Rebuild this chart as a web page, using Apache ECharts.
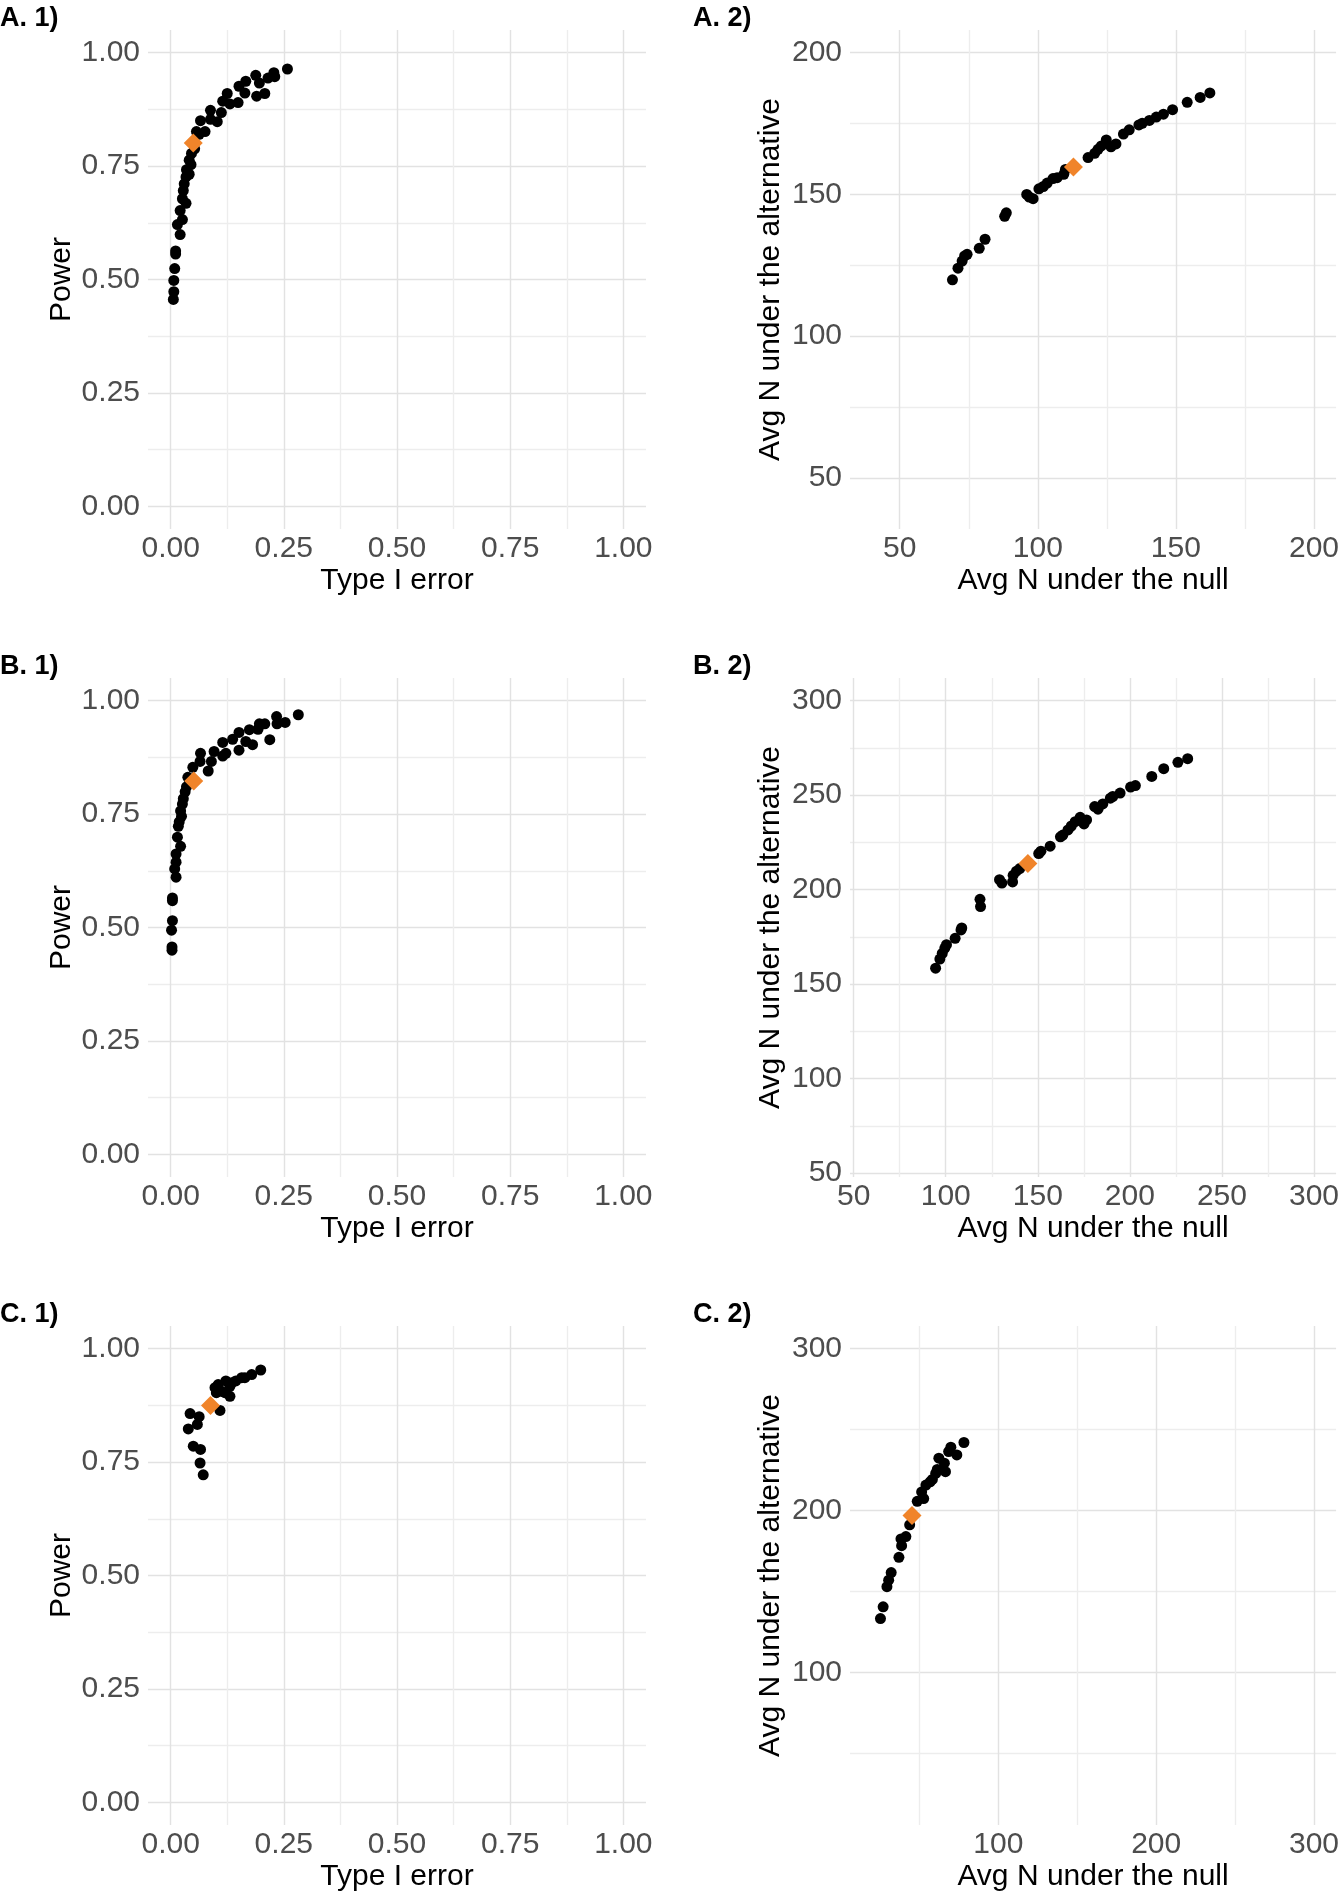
<!DOCTYPE html>
<html>
<head>
<meta charset="utf-8">
<title>Operating characteristics</title>
<script src="https://cdn.jsdelivr.net/npm/echarts@6/dist/echarts.min.js"></script>
<style>
  html, body { margin: 0; padding: 0; background: #fff; }
  #chart { width: 1342px; height: 1899px; }
</style>
</head>
<body>
<div id="chart"></div>
<script>
// A. 1) / A. 2)
var a1Err = [0.006, 0.007, 0.007, 0.009, 0.011, 0.011, 0.021, 0.015, 0.026, 0.021, 0.034, 0.026, 0.028, 0.030, 0.034, 0.041, 0.035, 0.045, 0.041, 0.046, 0.053, 0.057, 0.063, 0.076, 0.066, 0.088, 0.103, 0.112, 0.088, 0.115, 0.131, 0.149, 0.125, 0.151, 0.164, 0.166, 0.188, 0.190, 0.208, 0.196, 0.215, 0.228, 0.230, 0.258];
var a1Pow = [0.456, 0.473, 0.498, 0.524, 0.556, 0.563, 0.599, 0.621, 0.632, 0.652, 0.668, 0.678, 0.696, 0.711, 0.726, 0.732, 0.742, 0.753, 0.763, 0.778, 0.788, 0.826, 0.820, 0.826, 0.850, 0.853, 0.848, 0.868, 0.873, 0.893, 0.887, 0.890, 0.910, 0.926, 0.911, 0.937, 0.950, 0.904, 0.910, 0.933, 0.944, 0.956, 0.947, 0.964];
var a1Sel = [0.050, 0.801];

var a2Null = [69.1, 71.1, 72.6, 73.5, 74.4, 78.8, 80.9, 88.0, 88.6, 96.0, 96.9, 98.3, 100.4, 102.0, 103.4, 105.5, 107.0, 109.4, 110.0, 118.2, 120.6, 121.8, 123.0, 124.8, 126.5, 128.3, 131.0, 133.1, 136.6, 137.8, 140.4, 142.9, 145.5, 148.8, 154.1, 158.8, 162.3];
var a2Alt = [119.9, 124.0, 126.5, 128.3, 128.9, 131.0, 134.2, 142.3, 143.5, 150.0, 149.1, 148.5, 152.0, 152.8, 154.0, 155.6, 155.9, 157.1, 158.8, 163.0, 164.5, 165.9, 167.1, 169.2, 166.8, 167.8, 171.3, 172.8, 174.5, 175.1, 176.1, 177.3, 178.3, 179.9, 182.5, 184.2, 185.8];
var a2Sel = [112.9, 159.7];

// B. 1) / B. 2)
var b1Err = [0.003, 0.003, 0.002, 0.004, 0.004, 0.004, 0.012, 0.009, 0.012, 0.012, 0.022, 0.015, 0.017, 0.019, 0.024, 0.022, 0.026, 0.028, 0.032, 0.035, 0.038, 0.049, 0.066, 0.065, 0.083, 0.090, 0.096, 0.115, 0.122, 0.115, 0.137, 0.151, 0.151, 0.166, 0.181, 0.174, 0.193, 0.196, 0.208, 0.219, 0.234, 0.235, 0.253, 0.282];
var b1Pow = [0.450, 0.457, 0.494, 0.515, 0.559, 0.565, 0.611, 0.629, 0.644, 0.662, 0.679, 0.699, 0.723, 0.733, 0.745, 0.757, 0.772, 0.784, 0.799, 0.810, 0.831, 0.853, 0.884, 0.866, 0.845, 0.866, 0.888, 0.878, 0.884, 0.908, 0.915, 0.930, 0.891, 0.910, 0.903, 0.936, 0.937, 0.949, 0.949, 0.914, 0.965, 0.949, 0.952, 0.969];
var b1Sel = [0.051, 0.823];

var b2Null = [94.5, 96.8, 98.1, 99.5, 100.4, 105.1, 108.3, 108.7, 118.6, 118.9, 129.2, 130.5, 136.3, 136.6, 138.4, 140.2, 150.5, 151.7, 156.7, 162.3, 163.6, 166.4, 168.2, 170.3, 173.0, 175.1, 176.5, 180.9, 182.7, 185.3, 189.4, 190.7, 194.7, 200.4, 203.0, 211.9, 218.4, 226.1, 231.4];
var b2Alt = [158.5, 163.3, 166.3, 169.1, 170.9, 174.3, 178.7, 179.8, 194.9, 191.1, 205.3, 203.5, 204.1, 207.6, 209.8, 211.2, 219.1, 220.4, 223.0, 228.0, 228.9, 231.6, 233.7, 236.0, 238.3, 234.8, 236.9, 244.0, 242.6, 245.4, 248.4, 249.3, 251.1, 254.3, 255.1, 259.9, 264.0, 267.4, 269.3];
var b2Sel = [144.6, 213.8];

// C. 1) / C. 2)
var c1Err = [0.072, 0.065, 0.066, 0.050, 0.039, 0.059, 0.063, 0.043, 0.109, 0.098, 0.105, 0.112, 0.122, 0.131, 0.131, 0.144, 0.157, 0.164, 0.179, 0.199, 0.101, 0.120, 0.135];
var c1Pow = [0.722, 0.748, 0.778, 0.785, 0.823, 0.833, 0.850, 0.857, 0.864, 0.914, 0.921, 0.906, 0.929, 0.895, 0.917, 0.929, 0.936, 0.936, 0.943, 0.953, 0.903, 0.903, 0.925];
var c1Sel = [0.088, 0.875];

var c2Null = [25.3, 27.0, 29.4, 30.5, 32.1, 37.0, 38.7, 38.3, 41.4, 43.8, 48.6, 52.7, 51.4, 54.1, 56.8, 58.2, 60.3, 61.3, 66.5, 65.8, 62.3, 68.5, 69.9, 73.7, 78.2];
var c2Alt = [133.4, 140.7, 153.1, 157.1, 161.8, 171.2, 178.4, 182.6, 184.0, 191.3, 205.8, 207.5, 211.6, 215.8, 217.8, 219.3, 223.0, 225.5, 224.1, 229.3, 232.4, 236.5, 239.2, 234.4, 242.1];
var c2Sel = [45.3, 197.1];

// axis ranges (ggplot style 5% expansion) and breaks
var probRange = [-0.05, 1.05];
var probMajor = [0, 0.25, 0.5, 0.75, 1];
var probMinor = [0.125, 0.375, 0.625, 0.875];
var a2Range = [32, 208];
var a2Major = [50, 100, 150, 200];
var a2Minor = [75, 125, 175];
var b2Range = [48, 312];
var b2Major = [50, 100, 150, 200, 250, 300];
var b2Minor = [75, 125, 175, 225, 275];
var c2Range = [6, 314];
var c2Major = [100, 200, 300];
var c2Minor = [50, 150, 250];

var panelTitles = ['A. 1)', 'A. 2)', 'B. 1)', 'B. 2)', 'C. 1)', 'C. 2)'];

var FONT = '"Liberation Sans", Arial, Helvetica, sans-serif';
var colLeft = [148, 850];
var rowTop = [30, 678, 1326];
var panelW = 498, panelH = 499;

function zip(xs, ys) {
    return xs.map(function (x, i) { return [x, ys[i]]; });
}

function makeAxis(idx, range, major, minor, fmt, name, gap, isX) {
    var ticks = major.concat(minor).sort(function (a, b) { return a - b; });
    return {
        type: 'value',
        gridIndex: idx,
        min: range[0],
        max: range[1],
        name: name,
        nameLocation: 'middle',
        nameGap: gap,
        nameTextStyle: { color: '#000', fontSize: 30, fontFamily: FONT },
        axisLine: { show: false },
        axisTick: { show: false, customValues: ticks },
        axisLabel: {
            customValues: major,
            formatter: fmt,
            color: '#4d4d4d',
            fontSize: 30,
            fontFamily: FONT,
            margin: isX ? 5 : 8
        },
        splitLine: {
            show: true,
            lineStyle: {
                width: 1.4,
                color: ticks.map(function (v) { return major.indexOf(v) >= 0 ? '#e2e2e2' : '#ededed'; })
            }
        }
    };
}

var fmtProb = function (v) { return v.toFixed(2); };
var fmtN = function (v) { return String(v); };

var panels = [
    { pts: zip(a1Err, a1Pow), sel: a1Sel, range: probRange, major: probMajor, minor: probMinor, fmt: fmtProb, xn: 'Type I error', yn: 'Power', ygap: 71 },
    { pts: zip(a2Null, a2Alt), sel: a2Sel, range: a2Range, major: a2Major, minor: a2Minor, fmt: fmtN, xn: 'Avg N under the null', yn: 'Avg N under the alternative', ygap: 64 },
    { pts: zip(b1Err, b1Pow), sel: b1Sel, range: probRange, major: probMajor, minor: probMinor, fmt: fmtProb, xn: 'Type I error', yn: 'Power', ygap: 71 },
    { pts: zip(b2Null, b2Alt), sel: b2Sel, range: b2Range, major: b2Major, minor: b2Minor, fmt: fmtN, xn: 'Avg N under the null', yn: 'Avg N under the alternative', ygap: 64 },
    { pts: zip(c1Err, c1Pow), sel: c1Sel, range: probRange, major: probMajor, minor: probMinor, fmt: fmtProb, xn: 'Type I error', yn: 'Power', ygap: 71 },
    { pts: zip(c2Null, c2Alt), sel: c2Sel, range: c2Range, major: c2Major, minor: c2Minor, fmt: fmtN, xn: 'Avg N under the null', yn: 'Avg N under the alternative', ygap: 64 }
];

var grids = [], xAxes = [], yAxes = [], series = [], titles = [];

panels.forEach(function (p, i) {
    var col = i % 2, row = Math.floor(i / 2);
    grids.push({ left: colLeft[col], top: rowTop[row], width: panelW, height: panelH });
    xAxes.push(makeAxis(i, p.range, p.major, p.minor, p.fmt, p.xn, 37, true));
    yAxes.push(makeAxis(i, p.range, p.major, p.minor, p.fmt, p.yn, p.ygap, false));
    titles.push({
        text: panelTitles[i],
        left: col === 0 ? 0 : 693,
        top: rowTop[row] - 25,
        padding: 0,
        textStyle: { fontSize: 27, fontWeight: 'bold', color: '#000', fontFamily: FONT }
    });
    series.push({
        type: 'scatter',
        xAxisIndex: i,
        yAxisIndex: i,
        data: p.pts,
        symbolSize: 11,
        itemStyle: { color: '#000', opacity: 1 },
        z: 2
    });
    series.push({
        type: 'scatter',
        xAxisIndex: i,
        yAxisIndex: i,
        data: [p.sel],
        symbol: 'diamond',
        symbolSize: 19,
        itemStyle: { color: '#F0842A', opacity: 1 },
        z: 3
    });
});

var chart = echarts.init(document.getElementById('chart'));
chart.setOption({
    animation: false,
    backgroundColor: '#fff',
    title: titles,
    grid: grids,
    xAxis: xAxes,
    yAxis: yAxes,
    series: series
});
</script>
</body>
</html>
